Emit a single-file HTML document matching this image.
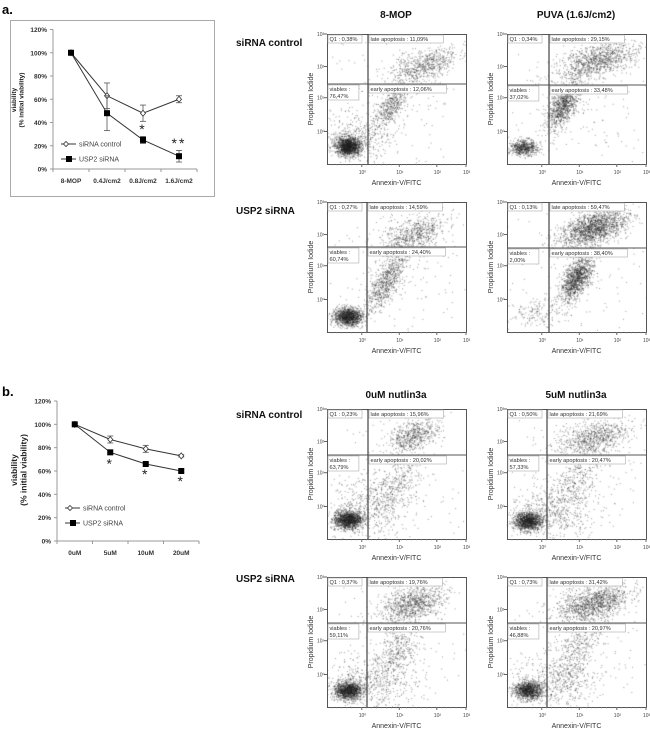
<!DOCTYPE html>
<html><head><meta charset="utf-8">
<style>
body{margin:0;background:#fff;width:650px;height:738px;overflow:hidden;position:relative;font-family:"Liberation Sans",sans-serif}
svg,canvas{position:absolute;left:0;top:0}
</style></head>
<body>
<canvas id="dots" width="650" height="738"></canvas>
<svg id="fig" width="650" height="738"></svg>
<script>
// ---------- Line chart data ----------
const catsA = ["8-MOP","0.4J/cm2","0.8J/cm2","1.6J/cm2"];
const ctrlA = [100,63,48,60];
const ctrlAErr = [0,11,7,3];
const uspA = [100,48,25,11];
const uspAErr = [0,15,3,5];
const starsA = ["","","*","**"];
const catsB = ["0uM","5uM","10uM","20uM"];
const ctrlB = [100,87,79,73];
const ctrlBErr = [0,3,3,1];
const uspB = [100,76,66,60];
const uspBErr = [0,2,1,1];
const starsB = ["","*","*","*"];
const yTicks = [0,20,40,60,80,100,120];

// ---------- Flow cytometry data ----------
const flowColTitlesA = ["8-MOP","PUVA (1.6J/cm2)"];
const flowColTitlesB = ["0uM nutlin3a","5uM nutlin3a"];
const flowRowLabels = ["siRNA control","USP2 siRNA","siRNA control","USP2 siRNA"];
const q1Vals = ["0,38","0,34","0,27","0,13","0,23","0,50","0,37","0,73"];
const lateVals = ["11,09","29,15","14,59","59,47","15,96","21,69","19,76","31,42"];
const viableVals = ["76,47","37,02","60,74","2,00","63,79","57,33","59,11","46,88"];
const earlyVals = ["12,06","33,48","24,40","38,40","20,02","20,47","20,76","20,97"];
// clusters: [cx, cy, sx, sy, count, corr] in fractions of plot box
const clusters = [
 [[0.15,0.86,0.045,0.035,1500,0],[0.22,0.8,0.12,0.1,400,0],[0.45,0.56,0.06,0.08,450,-0.6],[0.7,0.24,0.12,0.07,650,-0.5],[0.5,0.5,0.3,0.3,200,0]],
 [[0.12,0.87,0.05,0.03,600,0],[0.4,0.55,0.06,0.09,900,-0.6],[0.65,0.2,0.14,0.07,1000,-0.5],[0.5,0.5,0.3,0.3,200,0]],
 [[0.15,0.88,0.05,0.035,1300,0],[0.42,0.62,0.07,0.11,700,-0.7],[0.62,0.25,0.12,0.08,700,-0.5],[0.5,0.5,0.3,0.3,200,0]],
 [[0.22,0.85,0.1,0.05,150,0],[0.5,0.58,0.06,0.09,1200,-0.6],[0.62,0.2,0.12,0.07,1600,-0.5],[0.5,0.5,0.3,0.3,150,0]],
 [[0.15,0.85,0.05,0.035,1400,0],[0.3,0.75,0.15,0.12,500,0],[0.5,0.55,0.08,0.12,300,-0.5],[0.62,0.2,0.09,0.06,550,-0.4],[0.5,0.5,0.3,0.3,200,0]],
 [[0.15,0.86,0.05,0.035,1300,0],[0.32,0.78,0.15,0.1,500,0],[0.5,0.55,0.08,0.12,300,-0.5],[0.62,0.22,0.13,0.07,750,-0.4],[0.5,0.5,0.3,0.3,200,0]],
 [[0.15,0.87,0.05,0.035,1300,0],[0.35,0.8,0.15,0.1,500,0],[0.5,0.55,0.08,0.12,350,-0.5],[0.62,0.2,0.12,0.07,900,-0.4],[0.5,0.5,0.3,0.3,200,0]],
 [[0.15,0.87,0.05,0.035,1100,0],[0.35,0.8,0.15,0.1,500,0],[0.5,0.55,0.08,0.12,350,-0.5],[0.62,0.2,0.13,0.07,1200,-0.4],[0.5,0.5,0.3,0.3,200,0]]
];
const plotLefts=[327,507];
const plotTops=[34,202,409,577];
const hGate=[50,51,45,46,46,46,46,46];
const vGate=[41,42,40,42,41,40,40,40];

const NS="http://www.w3.org/2000/svg";
const svg=document.getElementById('fig');
function el(tag,attrs,parent,text){const e=document.createElementNS(NS,tag);for(const k in attrs)e.setAttribute(k,attrs[k]);if(text!==undefined)e.textContent=text;(parent||svg).appendChild(e);return e;}

function lineChart(cfg){
 const g=el('g',{});
 
 
 const y=v=>cfg.y0-(cfg.y0-cfg.y120)*v/120;
 const x=i=>cfg.x0+cfg.dx*(i+0.5);
 el('line',{x1:cfg.x0,y1:cfg.y120,x2:cfg.x0,y2:cfg.y0,stroke:'#999','stroke-width':1},g);
 el('line',{x1:cfg.x0,y1:cfg.y0,x2:cfg.x0+cfg.dx*4,y2:cfg.y0,stroke:'#999','stroke-width':1},g);
 yTicks.forEach(t=>{
  el('line',{x1:cfg.x0-3,y1:y(t),x2:cfg.x0,y2:y(t),stroke:'#999'},g);
  const tl=el('text',{x:cfg.x0-6,y:y(t)+2.5,'font-size':6.5,'text-anchor':'end','font-weight':'bold',fill:'#333'},g,t+'%');
  
  
 });
 for(let i=0;i<=4;i++)el('line',{x1:cfg.x0+cfg.dx*i,y1:cfg.y0,x2:cfg.x0+cfg.dx*i,y2:cfg.y0+3,stroke:'#999'},g);
 cfg.cats.forEach((c,i)=>{
  const tl=el('text',{x:x(i),y:cfg.y0+14,'font-size':6.5,'text-anchor':'middle','font-weight':'bold',fill:'#333'},g,c);
  
  
 });
 [[cfg.ctrl,cfg.ctrlErr,'open'],[cfg.usp,cfg.uspErr,'filled']].forEach(([vals,err,kind])=>{
  const pts=vals.map((v,i)=>x(i)+','+y(v)).join(' ');
  const pl=el('polyline',{points:pts,fill:'none',stroke:'#333','stroke-width':1},g);
  
  
  vals.forEach((v,i)=>{
   if(err[i]>0){
    el('line',{x1:x(i),y1:y(v+err[i]),x2:x(i),y2:y(v-err[i]),stroke:'#555','stroke-width':0.8},g);
    el('line',{x1:x(i)-3,y1:y(v+err[i]),x2:x(i)+3,y2:y(v+err[i]),stroke:'#555','stroke-width':0.8},g);
    el('line',{x1:x(i)-3,y1:y(v-err[i]),x2:x(i)+3,y2:y(v-err[i]),stroke:'#555','stroke-width':0.8},g);
   }
   let m;
   if(kind==='open'){m=el('path',{d:`M${x(i)},${y(v)-3}L${x(i)+2.5},${y(v)}L${x(i)},${y(v)+3}L${x(i)-2.5},${y(v)}Z`,fill:'#fff',stroke:'#333','stroke-width':0.8},g);
    }
   else{m=el('rect',{x:x(i)-3,y:y(v)-3,width:6,height:6,fill:'#000'},g);
    }
   
  });
 });
 cfg.stars.forEach((s,i)=>{if(!s)return;
  const v=cfg.starAbove?cfg.usp[i]+cfg.uspErr[i]+2:cfg.usp[i]-cfg.uspErr[i]-4;
  const st=el('text',{x:x(i),y:y(v)+(cfg.starAbove?0:9),'font-size':cfg.starSize,'text-anchor':'middle',fill:'#222','letter-spacing':2},g,s);
  
  
 });
 // legend
 [['siRNA control','open'],['USP2 siRNA','filled']].forEach(([t,k],j)=>{
  const ly=cfg.legY+j*cfg.legDy;
  el('line',{x1:cfg.legX,y1:ly,x2:cfg.legX+15,y2:ly,stroke:'#333'},g);
  if(k==='open')el('path',{d:`M${cfg.legX+5},${ly-2.5}L${cfg.legX+7.5},${ly}L${cfg.legX+5},${ly+2.5}L${cfg.legX+2.5},${ly}Z`,fill:'#fff',stroke:'#333','stroke-width':0.8},g);
  else el('rect',{x:cfg.legX+5,y:ly-3,width:6,height:6,fill:'#000'},g);
  const lt=el('text',{x:cfg.legX+18,y:ly+2.5,'font-size':7,fill:'#444'},g,t);
  
  
 });
 const yt=el('text',{transform:`translate(${cfg.ytX},${cfg.ytY}) rotate(-90)`,'font-size':cfg.ytSize,'font-weight':'bold','text-anchor':'middle',fill:'#222'},g);
 
 
 el('tspan',{x:0,dy:0},yt,'viability');
 el('tspan',{x:0,dy:cfg.ytSize+1},yt,'(% initial viability)');
 return g;
}

// panel labels
let t=el('text',{x:2,y:14,'font-size':13,'font-weight':'bold'},svg,'a.');

t=el('text',{x:2,y:396,'font-size':13,'font-weight':'bold'},svg,'b.');

let fr=el('rect',{x:10.5,y:20.5,width:204,height:176,fill:'none',stroke:'#aaa','stroke-width':1});


lineChart({name:'chart-a',cats:catsA,ctrl:ctrlA,ctrlErr:ctrlAErr,usp:uspA,uspErr:uspAErr,stars:starsA,starAbove:true,starSize:14,
 x0:53,dx:36,y0:169,y120:29.5,legX:61,legY:144,legDy:15,ytX:16,ytY:100,ytSize:6.5});
lineChart({name:'chart-b',cats:catsB,ctrl:ctrlB,ctrlErr:ctrlBErr,usp:uspB,uspErr:uspBErr,stars:starsB,starAbove:false,starSize:14,
 x0:57,dx:35.5,y0:541,y120:401,legX:65,legY:508,legDy:15,ytX:17,ytY:470,ytSize:8.5});

// ---------- flow plots ----------
let seed=12345;
function rnd(){seed=(seed*1103515245+12345)%2147483648;return seed/2147483648;}
function gauss(){let u=rnd()||1e-6,v=rnd();return Math.sqrt(-2*Math.log(u))*Math.cos(2*Math.PI*v);}
const ctx=document.getElementById('dots').getContext('2d');
const W=139,H=130;
const xDec=[0.25,0.52,0.79,1.0],yDec=[0.75,0.49,0.25,0];
const sup=['⁰','¹','²','³'];
function flowPlot(idx){
 const col=idx%2,row=Math.floor(idx/2);
 const L=plotLefts[col],T=plotTops[row];
 const g=el('g',{});
 
 
 ctx.save();ctx.beginPath();ctx.rect(L,T,W,H);ctx.clip();
 ctx.fillStyle='rgba(30,30,30,0.45)';
 clusters[idx].forEach(([cx,cy,sx,sy,n,c])=>{
  for(let k=0;k<n;k++){
   const a=gauss(),b=gauss();
   const px=cx+sx*a, py=cy+sy*(c*a+Math.sqrt(1-c*c)*b);
   ctx.fillRect(L+px*W,T+py*H,1,1);
  }
 });
 ctx.restore();
 el('rect',{x:L+.5,y:T+.5,width:W,height:H,fill:'none',stroke:'#555','stroke-width':1},g);
 const hg=T+hGate[idx],vg=L+vGate[idx];
 el('line',{x1:L,y1:hg,x2:L+W,y2:hg,stroke:'#555','stroke-width':1},g);
 el('line',{x1:vg,y1:T,x2:vg,y2:T+H,stroke:'#444','stroke-width':1.2},g);
 // ticks
 xDec.forEach((f,i)=>{el('line',{x1:L+f*W,y1:T+H,x2:L+f*W,y2:T+H+3,stroke:'#666'},g);
  el('text',{x:L+f*W-3,y:T+H+10,'font-size':5,fill:'#444'},g,'10'+sup[i]);});
 for(let i=0;i<28;i++){const f=(i+1)/28;el('line',{x1:L+f*W,y1:T+H,x2:L+f*W,y2:T+H+1.5,stroke:'#888','stroke-width':0.5},g);}
 yDec.forEach((f,i)=>{el('line',{x1:L-3,y1:T+f*H,x2:L,y2:T+f*H,stroke:'#666'},g);
  el('text',{x:L-10,y:T+f*H+2,'font-size':5,fill:'#444'},g,'10'+sup[i]);});
 let at=el('text',{x:L+W/2,y:T+H+21,'font-size':7,'text-anchor':'middle',fill:'#333'},g,'Annexin-V/FITC');
 
 at=el('text',{transform:`translate(${L-14},${T+H/2}) rotate(-90)`,'font-size':7,'text-anchor':'middle',fill:'#333'},g,'Propidium Iodide');
 
 function lab(x,y,lines,name){
  const w=Math.max(...lines.map(s=>s.length))*3.1+3,h=lines.length*7+1;
  el('rect',{x:x,y:y,width:w,height:h,fill:'#fff',stroke:'#aaa','stroke-width':0.6},g);
  lines.forEach((s,i)=>{const tt=el('text',{x:x+1.5,y:y+6+i*7,'font-size':5.6,fill:'#333'},g,s);
   });
 }
 lab(L+1,T+1,['Q1 : '+q1Vals[idx]+'%'],'q1-label');
 lab(vg+1,T+1,['late apoptosis : '+lateVals[idx]+'%'],'late-apoptosis-label');
 lab(L+1,hg+1,['viables :',viableVals[idx]+'%'],'viables-label');
 lab(vg+1,hg+1,['early apoptosis : '+earlyVals[idx]+'%'],'early-apoptosis-label');
}
for(let i=0;i<8;i++)flowPlot(i);

// titles
function title(x,y,s,name,anchor){const tt=el('text',{x:x,y:y,'font-size':10,'font-weight':'bold','text-anchor':anchor||'middle',fill:'#111'},svg,s);
 }
title(396,18,flowColTitlesA[0],'column-title');
title(576,18,flowColTitlesA[1],'column-title');
title(396,398,flowColTitlesB[0],'column-title');
title(576,398,flowColTitlesB[1],'column-title');
[[46],[214],[418],[582]].forEach(([yy],i)=>title(236,yy,flowRowLabels[i],'row-label','start'));
</script>
</body></html>
